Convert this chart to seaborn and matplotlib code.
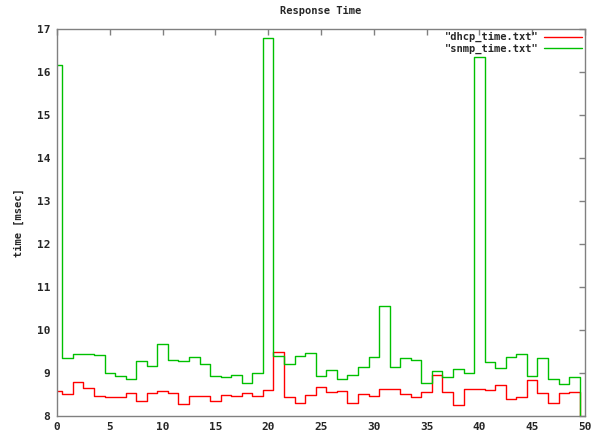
import numpy as np
import pandas as pd
import matplotlib
matplotlib.use("Agg")
import matplotlib.pyplot as plt
from matplotlib.lines import Line2D
import seaborn as sns

x_vals = list(range(50))
dhcp_time = [8.58, 8.50, 8.78, 8.64, 8.46, 8.43, 8.43, 8.53, 8.34, 8.53,
             8.57, 8.52, 8.27, 8.45, 8.45, 8.33, 8.47, 8.46, 8.53, 8.45,
             8.59, 9.48, 8.44, 8.28, 8.47, 8.66, 8.54, 8.56, 8.29, 8.51,
             8.45, 8.61, 8.61, 8.49, 8.42, 8.55, 8.94, 8.55, 8.24, 8.61,
             8.61, 8.59, 8.70, 8.38, 8.42, 8.83, 8.52, 8.28, 8.53, 8.55]
snmp_time = [16.17, 9.35, 9.44, 9.44, 9.40, 8.98, 8.91, 8.84, 9.28, 9.16,
             9.66, 9.30, 9.26, 9.36, 9.20, 8.93, 8.89, 8.95, 8.75, 8.98,
             16.80, 9.39, 9.21, 9.38, 9.45, 8.93, 9.05, 8.84, 8.94, 9.14,
             9.37, 10.56, 9.14, 9.33, 9.29, 8.75, 9.04, 8.90, 9.08, 8.98,
             16.35, 9.25, 9.11, 9.36, 9.43, 8.93, 9.33, 8.86, 8.73, 8.90]
series_labels = ['"dhcp_time.txt"', '"snmp_time.txt"']
series_colors = ["#ff0000", "#00c000"]
x_ticks = [0, 5, 10, 15, 20, 25, 30, 35, 40, 45, 50]
y_ticks = [8, 9, 10, 11, 12, 13, 14, 15, 16, 17]

sns.set_style("white")
plt.rcParams["font.family"] = ["DejaVu Sans Mono", "DejaVu Sans"]
plt.rcParams["font.weight"] = "bold"

fig = plt.figure(figsize=(5.97, 4.34), dpi=100)
ax = fig.add_axes([57 / 597, 18.5 / 434, (585 - 57) / 597, (415.5 - 29) / 434])

df = pd.DataFrame({"x": x_vals, "dhcp": dhcp_time, "snmp": snmp_time})
for col, color in zip(["dhcp", "snmp"], series_colors):
    sns.histplot(data=df, x="x", weights=col, discrete=True, element="step",
                 fill=True, color=color, facecolor="none", edgecolor=color,
                 linewidth=1.0, ax=ax)

ax.set_xlim(0, 50)
ax.set_ylim(8, 17)
ax.set_xticks(x_ticks)
ax.set_yticks(y_ticks)
ax.tick_params(axis="both", direction="in", length=4, width=1, color="#808080",
               top=True, right=True, labelsize=8, pad=5)
for lab in ax.get_xticklabels() + ax.get_yticklabels():
    lab.set_fontweight("bold")
for sp in ax.spines.values():
    sp.set_color("#808080")
    sp.set_linewidth(1.0)

ax.set_xlabel("")
ax.set_ylabel("time [msec]", fontsize=7.5, fontweight="bold", labelpad=9)
ax.set_title("Response Time", fontsize=7.5, fontweight="bold", pad=11)

handles = [Line2D([], [], color=c, lw=1.0) for c in series_colors]
leg = ax.legend(handles, series_labels, loc="upper right", frameon=False,
                markerfirst=False, fontsize=7.5, handlelength=3.6,
                borderaxespad=0.1, borderpad=0.2, labelspacing=0.15,
                handletextpad=0.6)
for t in leg.get_texts():
    t.set_fontweight("bold")

fig.savefig("out.png", dpi=100)
